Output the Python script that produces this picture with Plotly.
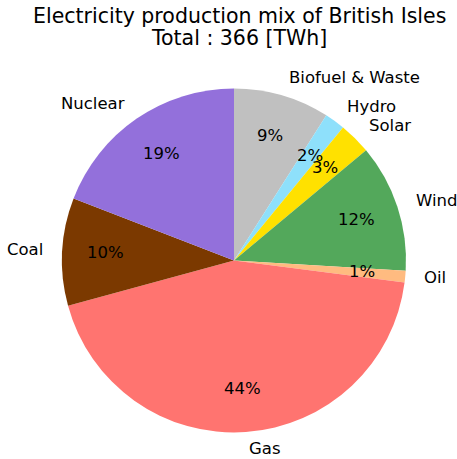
import math
import plotly.graph_objects as go

labels = ["Biofuel & Waste", "Hydro", "Solar", "Wind", "Oil", "Gas", "Coal", "Nuclear"]
values_twh = [33, 7, 11, 44, 4, 160, 37, 70]
colors = ["#c0c0c0", "#8ee0fb", "#ffe100", "#53a85b", "#ffbb80", "#ff7470", "#7b3900", "#9370db"]
title_lines = ["Electricity production mix of British Isles", "Total : 366 [TWh]"]

W, H = 457, 459
cx, cy, r = 234.0, 260.5, 172.0
FONT = "DejaVu Sans"
fs_label = 16.5
fs_title = 20.5

fig = go.Figure()
fig.add_trace(go.Pie(
    labels=labels, values=values_twh, sort=False, direction="clockwise", rotation=0,
    marker=dict(colors=colors, line=dict(width=0)),
    textinfo="none", hoverinfo="label+value+percent", showlegend=False,
    domain=dict(x=[(cx - r) / W, (cx + r) / W], y=[1 - (cy + r) / H, 1 - (cy - r) / H]),
))

total = sum(values_twh)
ann = []
cum = 0.0
for lab, v in zip(labels, values_twh):
    mid = (cum + v / 2) / total * 2 * math.pi
    cum += v
    s, c = math.sin(mid), math.cos(mid)
    # outer label
    lx, ly = cx + 1.1 * r * s, cy - 1.1 * r * c - 1
    ann.append(dict(x=lx / W, y=1 - ly / H, xref="paper", yref="paper", text=lab,
                    showarrow=False, xanchor="left" if s > 0 else "right", yanchor="middle",
                    font=dict(family=FONT, size=fs_label, color="black")))
    # percentage
    px, py = cx + 0.75 * r * s, cy - 0.75 * r * c - 1
    ann.append(dict(x=px / W, y=1 - py / H, xref="paper", yref="paper",
                    text="%1.0f%%" % (v / total * 100),
                    showarrow=False, xanchor="center", yanchor="middle",
                    font=dict(family=FONT, size=fs_label, color="black")))

for i, t in enumerate(title_lines):
    ty = [16.5, 38.0][i]
    ann.append(dict(x=239 / W, y=1 - ty / H, xref="paper", yref="paper", text=t,
                    showarrow=False, xanchor="center", yanchor="middle",
                    font=dict(family=FONT, size=fs_title, color="black")))

fig.update_layout(width=W, height=H, margin=dict(l=0, r=0, t=0, b=0),
                  paper_bgcolor="white", plot_bgcolor="white", annotations=ann)
fig.write_html("out.html", config={"displayModeBar": False},
               post_script="document.body.style.margin='0';")
